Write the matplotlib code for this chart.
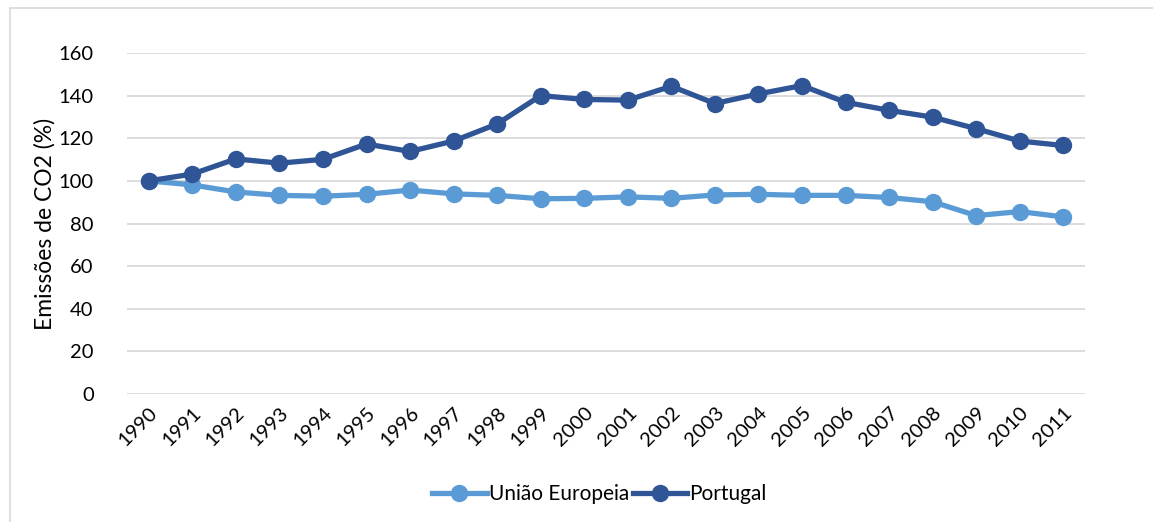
import matplotlib
matplotlib.use("Agg")
import matplotlib.pyplot as plt
from matplotlib.lines import Line2D

years = ["1990", "1991", "1992", "1993", "1994", "1995", "1996", "1997", "1998", "1999", "2000",
         "2001", "2002", "2003", "2004", "2005", "2006", "2007", "2008", "2009", "2010", "2011"]
uniao_europeia = [100, 98.1, 94.8, 93.2, 92.8, 93.7, 95.7, 93.9, 93.2, 91.6, 91.8,
                  92.5, 91.8, 93.4, 93.7, 93.2, 93.2, 92.2, 90.2, 83.7, 85.6, 83.1]
portugal = [100, 103.2, 110.3, 108.3, 110.1, 117.3, 113.8, 118.7, 126.7, 140.0, 138.2,
            137.9, 144.4, 136.3, 140.8, 144.7, 136.9, 133.1, 129.9, 124.5, 118.7, 116.6]
yticks = [0, 20, 40, 60, 80, 100, 120, 140, 160]

plt.rcParams['font.family'] = ['Lato', 'DejaVu Sans']

c_eu = "#5B9BD5"
c_pt = "#2F5597"

fig = plt.figure(figsize=(11.53, 5.22), dpi=100)
ax = fig.add_axes([127 / 1153, 1 - 394 / 522, (1085 - 127) / 1153, (394 - 53) / 522])

x = list(range(len(years)))
ax.plot(x, uniao_europeia, color=c_eu, lw=3.8, marker="o", ms=11.5, label="União Europeia", zorder=3)
ax.plot(x, portugal, color=c_pt, lw=3.8, marker="o", ms=11.5, label="Portugal", zorder=4)

ax.set_xlim(-0.5, len(years) - 0.5)
ax.set_ylim(0, 160)
ax.set_yticks(yticks)
ax.set_yticklabels([str(v) for v in yticks], fontsize=14.5, color="#000000")
ax.set_xticks(x)
ax.set_xticklabels(years, rotation=45, ha="right", rotation_mode="anchor", fontsize=14.5)
ax.tick_params(axis="both", length=0)
ax.tick_params(axis="y", pad=24)
ax.tick_params(axis="x", pad=7)
ax.grid(axis="y", color="#D9D9D9", lw=1.3)
ax.set_axisbelow(True)
for s in ax.spines.values():
    s.set_visible(False)
ax.set_ylabel("Emissões de CO2 (%)", fontsize=16.5, labelpad=2)

handles = [Line2D([0], [0], color=c_eu, lw=3.8, marker="o", ms=11.5),
           Line2D([0], [0], color=c_pt, lw=3.8, marker="o", ms=11.5)]
fig.legend(handles, ["União Europeia", "Portugal"], loc="center", bbox_to_anchor=(0.52, 1 - 494 / 522),
           ncol=2, frameon=False, fontsize=15, handlelength=2.6, columnspacing=0.2, handletextpad=0.1)

# chart frame (left and top edges visible)
fig.add_artist(Line2D([10 / 1153, 10 / 1153], [0, 1 - 8 / 522], color="#D9D9D9", lw=1.2, transform=fig.transFigure))
fig.add_artist(Line2D([10 / 1153, 1], [1 - 8 / 522, 1 - 8 / 522], color="#D9D9D9", lw=1.2, transform=fig.transFigure))

fig.savefig("out.png", dpi=100)
